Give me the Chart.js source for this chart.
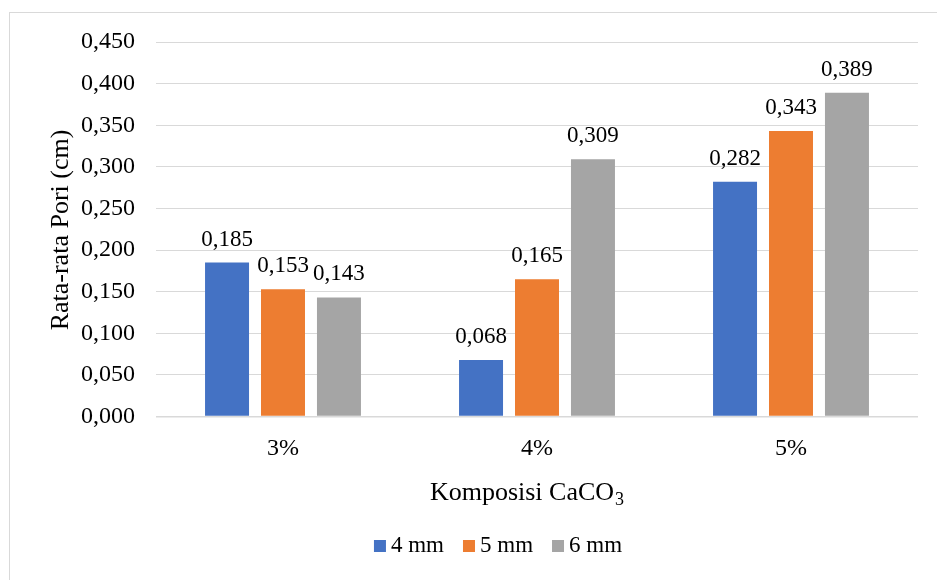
<!DOCTYPE html>
<html>
<head>
<meta charset="utf-8">
<script src="https://cdn.jsdelivr.net/npm/chart.js@4"></script>
<style>
  html, body { margin: 0; padding: 0; background: #fff; overflow: hidden; }
  #wrap { position: relative; width: 937px; height: 580px; overflow: hidden; }
  #frame { position: absolute; left: 9px; top: 12px; width: 1200px; height: 1200px; border: 1px solid #d9d9d9; box-sizing: border-box; }
  #c { position: absolute; left: 0; top: 0; }
</style>
</head>
<body>
<div id="wrap">
  <div id="frame"></div>
  <canvas id="c" width="937" height="580"></canvas>
</div>
<script>
// Average pore size per CaCO3 composition, grouped by particle size
const categories = ['3%', '4%', '5%'];
const seriesNames = ['4 mm', '5 mm', '6 mm'];
const values4mm = [0.185, 0.068, 0.282];
const values5mm = [0.153, 0.165, 0.343];
const values6mm = [0.143, 0.309, 0.389];
const seriesColors = ['#4472C4', '#ED7D31', '#A5A5A5'];
const yTitle = 'Rata-rata Pori (cm)';
const xTitleMain = 'Komposisi CaCO';
const xTitleSub = '3';

const FONT = "'Liberation Serif', 'Times New Roman', serif";
const fmt = v => Number(v).toFixed(3).replace('.', ',');

// Value labels above each bar, titles and legend
const decorations = {
  id: 'decorations',
  afterDatasetsDraw(chart) {
    const ctx = chart.ctx;
    ctx.save();
    ctx.fillStyle = '#000';
    ctx.font = '23px ' + FONT;
    ctx.textAlign = 'center';
    ctx.textBaseline = 'alphabetic';
    chart.data.datasets.forEach((ds, di) => {
      const meta = chart.getDatasetMeta(di);
      meta.data.forEach((bar, i) => {
        ctx.fillText(fmt(ds.data[i]), bar.x, bar.y - 17);
      });
    });
    ctx.restore();
  },
  afterDraw(chart) {
    const ctx = chart.ctx;
    ctx.save();
    ctx.fillStyle = '#000';

    // y-axis title
    ctx.font = '26px ' + FONT;
    ctx.textAlign = 'center';
    ctx.textBaseline = 'middle';
    ctx.translate(61, 230);
    ctx.rotate(-Math.PI / 2);
    ctx.fillText(yTitle, 0, 0);
    ctx.setTransform(1, 0, 0, 1, 0, 0);

    // x-axis title with subscript
    ctx.textAlign = 'left';
    ctx.textBaseline = 'alphabetic';
    ctx.font = '26px ' + FONT;
    const wMain = ctx.measureText(xTitleMain).width;
    ctx.font = '18px ' + FONT;
    const wSub = ctx.measureText(xTitleSub).width;
    const x0 = 527 - (wMain + 1 + wSub) / 2;
    ctx.font = '26px ' + FONT;
    ctx.fillText(xTitleMain, x0, 500);
    ctx.font = '18px ' + FONT;
    ctx.fillText(xTitleSub, x0 + wMain + 1, 505);

    // legend
    ctx.font = '23px ' + FONT;
    const box = 12, gapBox = 5, gapItem = 19;
    const items = chart.data.datasets.map(ds => ({ label: ds.label, color: ds.backgroundColor, w: ctx.measureText(ds.label).width }));
    const total = items.reduce((s, it) => s + box + gapBox + it.w, 0) + gapItem * (items.length - 1);
    let x = 498 - total / 2;
    items.forEach(it => {
      ctx.fillStyle = it.color;
      ctx.fillRect(x, 540, box, box);
      ctx.fillStyle = '#000';
      ctx.fillText(it.label, x + box + gapBox, 552);
      x += box + gapBox + it.w + gapItem;
    });
    ctx.restore();
  }
};

const seriesValues = [values4mm, values5mm, values6mm];

new Chart(document.getElementById('c'), {
  type: 'bar',
  data: {
    labels: categories,
    datasets: seriesNames.map((name, i) => ({
      label: name,
      data: seriesValues[i],
      backgroundColor: seriesColors[i],
      borderWidth: 0,
      categoryPercentage: 0.661,
      barPercentage: 0.786
    }))
  },
  options: {
    responsive: false,
    animation: false,
    devicePixelRatio: 1,
    layout: { padding: { left: 0, right: 19, top: 42, bottom: 0 } },
    plugins: { legend: { display: false }, tooltip: { enabled: false }, title: { display: false } },
    scales: {
      x: {
        grid: { display: false, drawTicks: false },
        border: { display: false },
        ticks: { color: '#000', font: { family: FONT, size: 24 }, padding: 18 },
        afterFit(scale) { scale.height = 163.5; }
      },
      y: {
        min: 0,
        max: 0.45,
        grid: {
          color: '#d9d9d9',
          lineWidth: c => (c.tick && c.tick.value === 0 ? 1.6 : 1),
          drawTicks: false
        },
        border: { display: false },
        ticks: {
          stepSize: 0.05,
          color: '#000',
          font: { family: FONT, size: 24 },
          padding: 21,
          callback: v => fmt(v)
        },
        afterFit(scale) { scale.width = 156; }
      }
    }
  },
  plugins: [decorations]
});
</script>
</body>
</html>
